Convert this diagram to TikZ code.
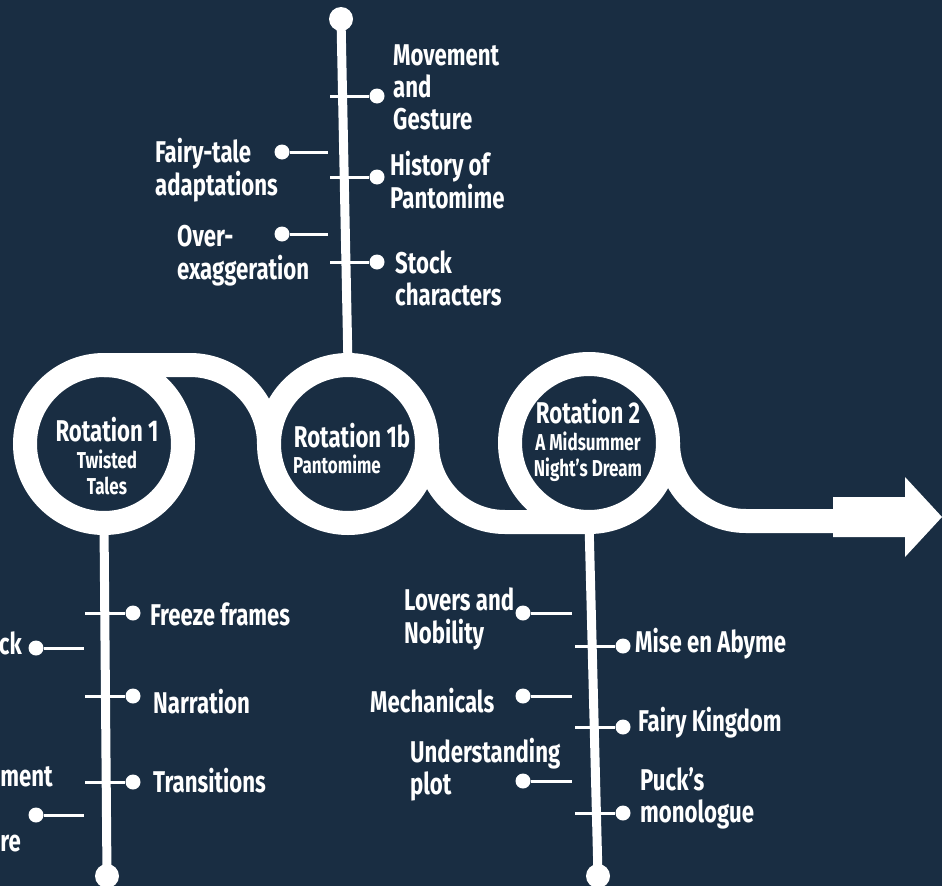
\documentclass[tikz,border=0pt]{standalone}
\usepackage{fontspec}
\setmainfont{Fira Sans}[FakeStretch=0.74]
\definecolor{bgnavy}{HTML}{192D42}
\newcommand{\stk}[2][l]{\begin{tabular}[t]{@{}#1@{}}#2\end{tabular}}
\begin{document}
\begin{tikzpicture}[x=1pt,y=-1pt,
  myring/.style={circle,draw=white,line width=24pt,minimum size=158pt,inner sep=0pt,outer sep=0pt},
  myband/.style={draw=white,line width=24pt},
  mystem/.style={draw=white,line width=9pt},
  enddot/.style={circle,fill=white,minimum size=24pt,inner sep=0pt},
  bdot/.style={circle,fill=white,minimum size=15pt,inner sep=0pt},
  twig/.style={draw=white,line width=3pt},
  lab/.style={text=white,inner sep=0pt,font=\fontsize{30}{32}\selectfont\bfseries},
  ttl/.style={text=white,inner sep=0pt,anchor=base,font=\fontsize{30}{32}\selectfont\bfseries},
  sub/.style={text=white,inner sep=0pt,anchor=base,font=\fontsize{23}{26}\selectfont\bfseries}]
\useasboundingbox (0,0) rectangle (942,886);
\fill[bgnavy] (0,0) rectangle (942,886);

% rings
\node[myring] (c1) at (104,444) {};
\node[myring] (c1b) at (348,444) {};
\node[myring] (c2) at (589,443) {};

% bands
\draw[myband] (c1.north) -- (190,365) arc[start angle=90,end angle=0,radius=79pt];
\draw[myband] (c1b.east) arc[start angle=180,end angle=270,radius=78pt] -- (c2.south);
\draw[myband] (c2.east) arc[start angle=180,end angle=270,radius=78pt] -- (836,521);
\fill[white] (833,497) -- (905,497) -- (905,477) -- (942,517) -- (905,557) -- (905,537) -- (833,537) -- cycle;

% end dots and stems
\node[enddot] (top) at (341,19) {};
\node[enddot] (bot1) at (107,876) {};
\node[enddot] (bot2) at (598,876) {};
\draw[mystem] (c1b.north) -- (top.center);
\draw[mystem] (c1.south) -- (bot1.center);
\draw[mystem] (c2.south) -- (bot2.center);

% circle texts
\node[ttl] (t1) at (107,441) {Rotation 1};
\node[sub] (s1) at (107,468) {\stk[c]{Twisted\\Tales}};
\node[ttl] (t1b) at (352,447) {Rotation 1b};
\node[sub,anchor=base west] (s1b) at (293,473) {Pantomime};
\node[ttl] (t2) at (588,423) {Rotation 2};
\node[sub,font=\fontsize{23}{25}\selectfont\bfseries] (s2) at (588,450) {\stk[c]{A Midsummer\\Night’s Dream}};

% top stem branches
\coordinate (ta) at (330,96);  \node[bdot] (da) at (377,96) {};  \draw[twig] (ta) -- (da);
\node[lab,anchor=base west] (la) at (393,65) {\stk{Movement\\and\\Gesture}};
\node[bdot] (db) at (282,152) {}; \coordinate (tb) at (328,152); \draw[twig] (db) -- (tb);
\node[lab,anchor=base west] (lb) at (155,162) {\stk{Fairy-tale\\adaptations}};
\coordinate (tc) at (330,177); \node[bdot] (dc) at (377,177) {}; \draw[twig] (tc) -- (dc);
\node[lab,anchor=base west] (lc) at (390,175) {\stk{History of\\Pantomime}};
\node[bdot] (dd) at (282,234) {}; \coordinate (td) at (328,234); \draw[twig] (dd) -- (td);
\node[lab,anchor=base west] (ld) at (177,246) {\stk{Over-\\exaggeration}};
\coordinate (te) at (330,262); \node[bdot] (de) at (377,262) {}; \draw[twig] (te) -- (de);
\node[lab,anchor=base west] (le) at (395,273) {\stk{Stock\\characters}};

% rotation 1 branches
\coordinate (tf) at (85,613); \node[bdot] (df) at (133,613) {}; \draw[twig] (tf) -- (df);
\node[lab,anchor=base west] (lf) at (150,625) {Freeze frames};
\node[bdot] (dg) at (36,648) {}; \coordinate (tg) at (84,648); \draw[twig] (dg) -- (tg);
\node[lab,anchor=base east] (lg) at (22,654) {ck};
\coordinate (th) at (85,696); \node[bdot] (dh) at (133,696) {}; \draw[twig] (th) -- (dh);
\node[lab,anchor=base west] (lh) at (153,713) {Narration};
\coordinate (ti) at (85,782); \node[bdot] (di) at (133,782) {}; \draw[twig] (ti) -- (di);
\node[lab,anchor=base west] (li) at (153,792) {Transitions};
\node[bdot] (dj) at (36,815) {}; \coordinate (tj) at (84,815); \draw[twig] (dj) -- (tj);
\node[lab,anchor=base east] (lj1) at (53,786) {ment};
\node[lab,anchor=base east] (lj2) at (21,851) {re};

% rotation 2 branches
\node[bdot] (dk) at (523,613) {}; \coordinate (tk) at (572,613); \draw[twig] (dk) -- (tk);
\node[lab,anchor=base west] (lk) at (404,610) {\stk{Lovers and\\Nobility}};
\coordinate (tl) at (575,646); \node[bdot] (dl) at (623,646) {}; \draw[twig] (tl) -- (dl);
\node[lab,anchor=base west] (ll) at (635,652) {Mise en Abyme};
\node[bdot] (dm) at (523,696) {}; \coordinate (tm) at (572,696); \draw[twig] (dm) -- (tm);
\node[lab,anchor=base west] (lm) at (370,712) {Mechanicals};
\coordinate (tn) at (575,727); \node[bdot] (dn) at (623,727) {}; \draw[twig] (tn) -- (dn);
\node[lab,anchor=base west] (ln) at (638,731) {Fairy Kingdom};
\node[bdot] (do) at (523,781) {}; \coordinate (to) at (572,781); \draw[twig] (do) -- (to);
\node[lab,anchor=base west] (lo) at (410,762) {\stk{Understanding\\plot}};
\coordinate (tp) at (575,813); \node[bdot] (dp) at (623,813) {}; \draw[twig] (tp) -- (dp);
\node[lab,anchor=base west] (lp) at (640,790) {\stk{Puck’s\\monologue}};
\end{tikzpicture}
\end{document}
